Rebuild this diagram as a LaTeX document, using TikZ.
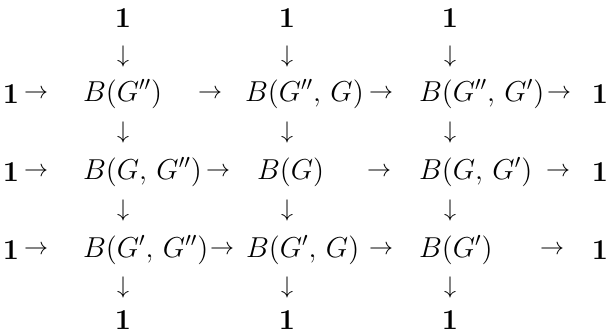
\documentclass[tikz,border=0pt]{standalone}
\begin{document}
\begin{tikzpicture}[x=0.5pt,y=-0.5pt,
  every node/.style={inner sep=0pt,outer sep=0pt,font=\fontsize{14.5}{17}\selectfont},
  ent/.style={anchor=west},
  one/.style={anchor=center},
  arr/.style={anchor=center,font=\fontsize{11.5}{14}\selectfont}]
\useasboundingbox (0,0) rectangle (608,335);
% top ones and down arrows
\node[one] (t1) at (123,18) {$\mathbf{1}$};
\node[one] (t2) at (287,18) {$\mathbf{1}$};
\node[one] (t3) at (450,18) {$\mathbf{1}$};
\node[arr] (da1) at (123,57) {$\downarrow$};
\node[arr] (da2) at (287,57) {$\downarrow$};
\node[arr] (da3) at (450,57) {$\downarrow$};
% row 1
\node[one] (l1) at (11,94) {$\mathbf{1}$};
\node[arr] (la1) at (36,94) {$\rightarrow$};
\node[ent] (a11) at (83,94) {$B(G'')$};
\node[arr] (ra11) at (210,94) {$\rightarrow$};
\node[ent] (a12) at (245,94) {$B(G'',\,G)$};
\node[arr] (ra12) at (381,94) {$\rightarrow$};
\node[ent] (a13) at (419,94) {$B(G'',\,G')$};
\node[arr] (ra13) at (559,94) {$\rightarrow$};
\node[one] (r1) at (600,94) {$\mathbf{1}$};
\node[arr] (db1) at (123,133) {$\downarrow$};
\node[arr] (db2) at (287,133) {$\downarrow$};
\node[arr] (db3) at (450,133) {$\downarrow$};
% row 2
\node[one] (l2) at (11,172) {$\mathbf{1}$};
\node[arr] (la2) at (36,172) {$\rightarrow$};
\node[ent] (a21) at (83,172) {$B(G,\,G'')$};
\node[arr] (ra21) at (218,172) {$\rightarrow$};
\node[ent] (a22) at (257,172) {$B(G)$};
\node[arr] (ra22) at (379,172) {$\rightarrow$};
\node[ent] (a23) at (419,172) {$B(G,\,G')$};
\node[arr] (ra23) at (558,172) {$\rightarrow$};
\node[one] (r2) at (600,172) {$\mathbf{1}$};
\node[arr] (dc1) at (123,211) {$\downarrow$};
\node[arr] (dc2) at (287,211) {$\downarrow$};
\node[arr] (dc3) at (450,211) {$\downarrow$};
% row 3
\node[one] (l3) at (11,250) {$\mathbf{1}$};
\node[arr] (la3) at (36,250) {$\rightarrow$};
\node[ent] (a31) at (83,250) {$B(G',\,G'')$};
\node[arr] (ra31) at (222,250) {$\rightarrow$};
\node[ent] (a32) at (246,250) {$B(G',\,G)$};
\node[arr] (ra32) at (381,250) {$\rightarrow$};
\node[ent] (a33) at (419,250) {$B(G')$};
\node[arr] (ra33) at (552,250) {$\rightarrow$};
\node[one] (r3) at (600,250) {$\mathbf{1}$};
% bottom
\node[arr] (dd1) at (123,287) {$\downarrow$};
\node[arr] (dd2) at (287,287) {$\downarrow$};
\node[arr] (dd3) at (450,287) {$\downarrow$};
\node[one] (b1) at (123,320) {$\mathbf{1}$};
\node[one] (b2) at (287,320) {$\mathbf{1}$};
\node[one] (b3) at (450,320) {$\mathbf{1}$};
\end{tikzpicture}
\end{document}
